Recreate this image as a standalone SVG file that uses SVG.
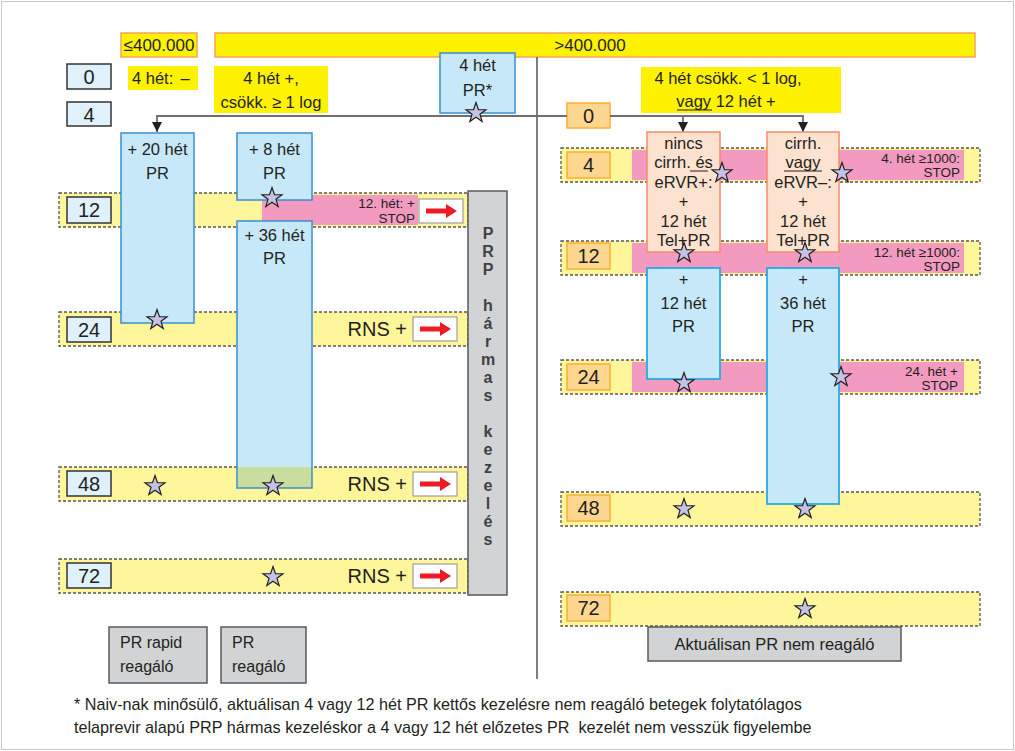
<svg xmlns="http://www.w3.org/2000/svg" width="1015" height="751" viewBox="0 0 1015 751">
<style>
text{font-family:"Liberation Sans",Arial,sans-serif;fill:#231f20}
.band{fill:#fff59a;stroke:#555;stroke-width:1.3;stroke-dasharray:3 2}
.pink{fill:#f39ac1}
.lblL{fill:#dff1fb;stroke:#333;stroke-width:1.5}
.lblR{fill:#fdd690;stroke:#fbb034;stroke-width:1.5}
.num{font-size:20px;text-anchor:middle}
.blueL{fill:#c7e8f8;stroke:#3a8fd0;stroke-width:1.5}
.blueR{fill:#c7e8f8;stroke:#29abe2;stroke-width:1.8}
.peach{fill:#fde3cf;stroke:#f58b6c;stroke-width:1.5}
.yel{fill:#fff200}
.yelS{fill:#fff200;stroke:#f7a35c;stroke-width:1.5}
.gray{fill:#d1d3d4;stroke:#58595b;stroke-width:1.5}
.t15{font-size:16.5px;text-anchor:middle}
.t16{font-size:17px;text-anchor:middle}
.pt{font-size:13.5px;text-anchor:end}
.rns{font-size:20px;text-anchor:end}
.wbox{fill:#fff;stroke:#9d9fa2;stroke-width:1.2}
.conn{fill:none;stroke:#6d6e71;stroke-width:1.8}
.prp{font-size:16px;font-weight:bold;text-anchor:middle;fill:#414042}
.foot{font-size:16.2px}
.lb{font-size:16px}
</style>
<defs>
<path id="star" d="M0,-10.5 L2.47,-3.4 L9.99,-3.25 L3.99,1.3 L6.17,8.5 L0,4.2 L-6.17,8.5 L-3.99,1.3 L-9.99,-3.25 L-2.47,-3.4 Z" fill="#c5c3e3" stroke="#231f20" stroke-width="1.2"/>
<g id="redarrow"><rect x="0" y="0" width="44" height="24" class="wbox"/><rect x="7" y="9.5" width="22" height="5" fill="#ed1c24"/><polygon points="27,5 38,12 27,19" fill="#ed1c24"/></g>
<marker id="ah" markerWidth="10" markerHeight="10" refX="10" refY="5" orient="auto" markerUnits="userSpaceOnUse" viewBox="0 0 10 10"><path d="M0,0 L10,5 L0,10 Z" fill="#231f20"/></marker>
</defs>

<rect x="1.5" y="1.5" width="1012" height="748" fill="#fff" stroke="#c8c8c8" stroke-width="1"/>

<!-- header -->
<g id="hdr-le400"><rect x="121" y="33" width="76" height="24" class="yelS"/><text x="159" y="51" class="t16">≤400.000</text></g>
<g id="hdr-gt400"><rect x="215" y="33" width="760" height="24" class="yelS"/><text x="590" y="51" class="t16">&gt;400.000</text></g>

<!-- left bands -->
<g id="band-L12"><rect x="59" y="193" width="409" height="34" class="band"/><rect x="262" y="195" width="156" height="30" class="pink"/></g>
<g id="band-L24"><rect x="59" y="312" width="409" height="34" class="band"/></g>
<g id="band-L48"><rect x="59" y="467" width="409" height="34" class="band"/></g>
<g id="band-L72"><rect x="59" y="559" width="409" height="34" class="band"/></g>

<!-- right bands -->
<g id="band-R4"><rect x="561" y="148" width="419" height="34" class="band"/><rect x="632" y="150" width="332" height="30" class="pink"/><text x="960" y="163" class="pt">4. hét ≥1000:</text><text x="960" y="177" class="pt">STOP</text></g>
<g id="band-R12"><rect x="561" y="241" width="419" height="34" class="band"/><rect x="632" y="243" width="332" height="30" class="pink"/><text x="960" y="257" class="pt">12. hét ≥1000:</text><text x="960" y="271" class="pt">STOP</text></g>
<g id="band-R24"><rect x="561" y="360" width="419" height="34" class="band"/><rect x="632" y="362" width="332" height="30" class="pink"/><text x="958" y="376" class="pt">24. hét +</text><text x="958" y="390" class="pt">STOP</text></g>
<g id="band-R48"><rect x="561" y="492" width="419" height="34" class="band"/></g>
<g id="band-R72"><rect x="561" y="592" width="419" height="34" class="band"/></g>

<!-- time labels left -->
<g id="lblL0"><rect x="67" y="64" width="44" height="25" class="lblL"/><text x="89" y="84" class="num">0</text></g>
<g id="lblL4"><rect x="67" y="102" width="44" height="24" class="lblL"/><text x="89" y="122" class="num">4</text></g>
<g id="lblL12"><rect x="67" y="197" width="44" height="26" class="lblL"/><text x="89" y="217" class="num">12</text></g>
<g id="lblL24"><rect x="67" y="317" width="44" height="25" class="lblL"/><text x="89" y="337" class="num">24</text></g>
<g id="lblL48"><rect x="67" y="471" width="44" height="25" class="lblL"/><text x="89" y="491" class="num">48</text></g>
<g id="lblL72"><rect x="67" y="563" width="44" height="25" class="lblL"/><text x="89" y="583" class="num">72</text></g>

<!-- time labels right -->
<g id="lblR0"><rect x="567" y="103" width="43" height="25" class="lblR"/><text x="588.5" y="123" class="num">0</text></g>
<g id="lblR4"><rect x="567" y="152" width="43" height="26" class="lblR"/><text x="588.5" y="172" class="num">4</text></g>
<g id="lblR12"><rect x="567" y="243" width="43" height="26" class="lblR"/><text x="588.5" y="263" class="num">12</text></g>
<g id="lblR24"><rect x="567" y="364" width="43" height="26" class="lblR"/><text x="588.5" y="384" class="num">24</text></g>
<g id="lblR48"><rect x="567" y="495" width="43" height="26" class="lblR"/><text x="588.5" y="515" class="num">48</text></g>
<g id="lblR72"><rect x="567" y="595" width="43" height="26" class="lblR"/><text x="588.5" y="615" class="num">72</text></g>

<!-- condition boxes -->
<g id="cond-4neg"><rect x="128" y="66" width="70" height="24" class="yel"/><text x="132" y="84" style="font-size:16.5px">4 hét:</text><text x="185" y="84" class="t15">–</text></g>
<g id="cond-4pos"><rect x="214" y="66" width="114" height="47" class="yel"/><text x="271" y="84" class="t15">4 hét +,</text><text x="271" y="108" class="t15">csökk. ≥ 1 log</text></g>
<g id="cond-right"><rect x="641" y="67" width="200" height="46" class="yel"/><text x="728" y="84" class="t15">4 hét csökk. &lt; 1 log,</text><text x="726" y="107" class="t15">vagy 12 hét +</text><line x1="677" y1="110" x2="712" y2="110" stroke="#231f20" stroke-width="1"/></g>

<g id="pr4"><rect x="440" y="53" width="75" height="60" class="blueL"/><text x="477.5" y="71" class="t15">4 hét</text><text x="477.5" y="96" class="t15">PR*</text></g>

<!-- divider -->
<line x1="537" y1="57" x2="537" y2="679" stroke="#555" stroke-width="1.5"/>

<!-- connectors -->
<g id="connectors">
<path class="conn" d="M567,116 H157 V132" marker-end="url(#ah)"/>
<path class="conn" d="M610,116 H803 V132" marker-end="url(#ah)"/>
<path class="conn" d="M683,116 V132" marker-end="url(#ah)"/>
</g>

<!-- left treatment boxes -->
<g id="pr20"><rect x="121" y="133" width="73" height="190" class="blueL"/><text x="157.5" y="155" class="t15">+ 20 hét</text><text x="157.5" y="179" class="t15">PR</text></g>
<g id="pr8"><rect x="237" y="133" width="75" height="67" class="blueL"/><text x="274.5" y="155" class="t15">+ 8 hét</text><text x="274.5" y="179" class="t15">PR</text></g>
<g id="pr36"><rect x="237" y="221" width="75" height="267" fill="#c7e8f8"/><rect x="237" y="467" width="75" height="21" fill="#c9dd9f"/><rect x="237" y="221" width="75" height="267" fill="none" stroke="#3a8fd0" stroke-width="1.5"/><text x="274.5" y="241" class="t15">+ 36 hét</text><text x="274.5" y="264" class="t15">PR</text></g>

<!-- left band labels -->
<g id="stopL12"><text x="415" y="208" class="pt">12. hét: +</text><text x="415" y="223" class="pt">STOP</text><use href="#redarrow" x="419" y="199"/></g>
<g id="rns24"><text x="407" y="336" class="rns">RNS +</text><use href="#redarrow" x="413" y="317"/></g>
<g id="rns48"><text x="407" y="491" class="rns">RNS +</text><use href="#redarrow" x="413" y="472"/></g>
<g id="rns72"><text x="407" y="583" class="rns">RNS +</text><use href="#redarrow" x="413" y="564"/></g>

<!-- PRP -->
<g id="prp"><rect x="468" y="191" width="39" height="404" class="gray"/>
<text class="prp" x="488" y="239">P</text><text class="prp" x="488" y="257">R</text><text class="prp" x="488" y="275">P</text>
<text class="prp" x="488" y="311">h</text><text class="prp" x="488" y="329">á</text><text class="prp" x="488" y="347">r</text><text class="prp" x="488" y="365">m</text><text class="prp" x="488" y="383">a</text><text class="prp" x="488" y="401">s</text>
<text class="prp" x="488" y="437">k</text><text class="prp" x="488" y="455">e</text><text class="prp" x="488" y="473">z</text><text class="prp" x="488" y="491">e</text><text class="prp" x="488" y="509">l</text><text class="prp" x="488" y="527">é</text><text class="prp" x="488" y="545">s</text>
</g>

<!-- right treatment boxes -->
<g id="tel1"><rect x="647" y="132" width="73" height="120" class="peach"/>
<text x="683.5" y="149" class="t15">nincs</text><text x="683.5" y="168" class="t15">cirrh. és</text><line x1="690" y1="171" x2="708" y2="171" stroke="#231f20" stroke-width="1"/><text x="683.5" y="188" class="t15">eRVR+:</text><text x="683.5" y="207" class="t15">+</text><text x="683.5" y="227" class="t15">12 hét</text><text x="683.5" y="246" class="t15">Tel+PR</text></g>
<g id="tel2"><rect x="767" y="132" width="72" height="120" class="peach"/>
<text x="803" y="149" class="t15">cirrh.</text><text x="803" y="168" class="t15">vagy</text><line x1="784" y1="171" x2="822" y2="171" stroke="#231f20" stroke-width="1"/><text x="803" y="188" class="t15">eRVR–:</text><text x="803" y="207" class="t15">+</text><text x="803" y="227" class="t15">12 hét</text><text x="803" y="246" class="t15">Tel+PR</text></g>
<g id="prR12"><rect x="647" y="268" width="73" height="111" class="blueR"/><text x="683.5" y="285" class="t15">+</text><text x="683.5" y="309" class="t15">12 hét</text><text x="683.5" y="332" class="t15">PR</text></g>
<g id="prR36"><rect x="767" y="268" width="72" height="236" class="blueR"/><text x="803" y="285" class="t15">+</text><text x="803" y="309" class="t15">36 hét</text><text x="803" y="332" class="t15">PR</text></g>

<!-- stars -->
<g id="stars">
<use href="#star" x="476" y="113"/>
<use href="#star" x="157" y="320"/>
<use href="#star" x="272" y="198"/>
<use href="#star" x="155" y="486"/>
<use href="#star" x="273" y="486"/>
<use href="#star" x="273" y="577"/>
<use href="#star" x="722" y="173"/>
<use href="#star" x="842" y="173"/>
<use href="#star" x="684" y="253"/>
<use href="#star" x="805" y="253"/>
<use href="#star" x="684" y="383"/>
<use href="#star" x="841" y="377"/>
<use href="#star" x="684" y="509"/>
<use href="#star" x="805" y="509"/>
<use href="#star" x="805" y="609"/>
</g>

<!-- bottom boxes -->
<g id="rapid"><rect x="109" y="627" width="98" height="56" class="gray"/><text x="120" y="648" class="lb">PR rapid</text><text x="120" y="672" class="lb">reagáló</text></g>
<g id="reag"><rect x="221" y="627" width="85" height="56" class="gray"/><text x="232" y="648" class="lb">PR</text><text x="232" y="672" class="lb">reagáló</text></g>
<g id="nonresp"><rect x="648" y="627" width="253" height="34" class="gray"/><text x="774.5" y="650" class="t15">Aktuálisan PR nem reagáló</text></g>

<g id="footnote">
<text x="74" y="710" class="foot">* Naiv-nak minősülő, aktuálisan 4 vagy 12 hét PR kettős kezelésre nem reagáló betegek folytatólagos</text>
<text x="74" y="733" class="foot">telaprevir alapú PRP hármas kezeléskor a 4 vagy 12 hét előzetes PR&#160; kezelét nem vesszük figyelembe</text>
</g>
</svg>
